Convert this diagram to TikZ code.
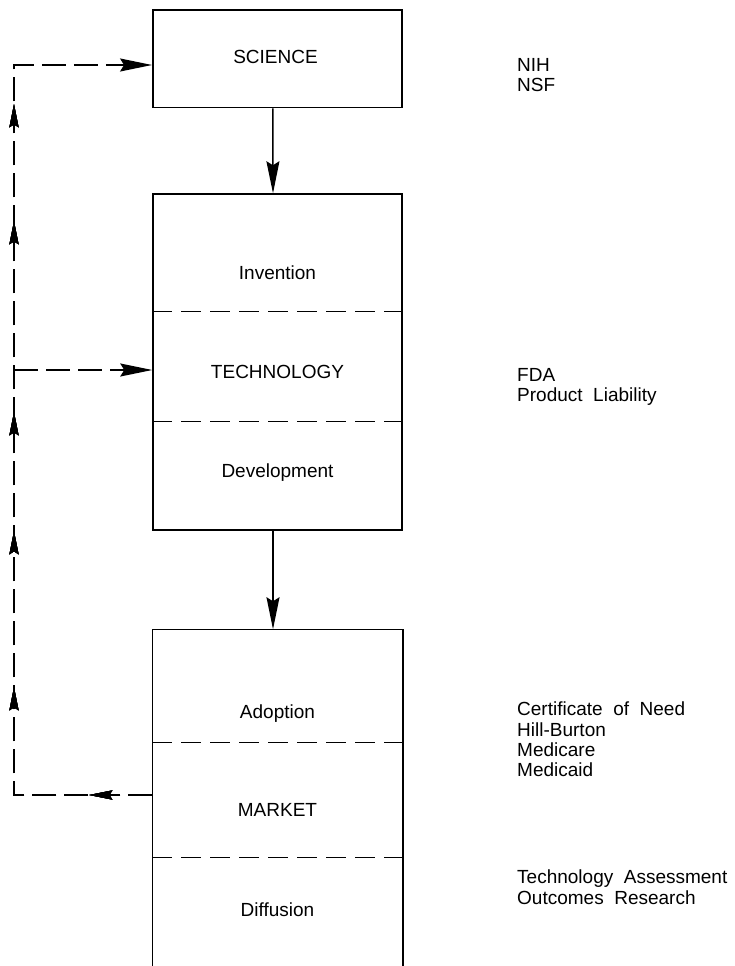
\documentclass[tikz,border=0pt]{standalone}
\usepackage{fontspec}
\setmainfont{Liberation Sans}
\usetikzlibrary{arrows.meta,calc,decorations.markings}

\tikzset{
  boxframe/.style={draw, line width=1.5pt, minimum width=249pt, inner sep=0pt},
  boxlabel/.style={font=\fontsize{19}{20.3}\selectfont, text height=13.6pt, text depth=0pt, inner sep=0pt},
  agency/.style={font=\fontsize{19}{20.3}\selectfont, align=left, anchor=north west, inner sep=0pt},
  flow/.style={line width=1.4pt, -{Stealth[length=32pt,width=13pt,inset=4pt]}},
  feedback/.style={line width=1.4pt, dash pattern=on 24pt off 8pt},
  divider/.style={line width=1.3pt, dash pattern=on 20pt off 9pt},
  midhead/.style={decoration={markings,
      mark=at position #1 with {\arrow{Stealth[length=23pt,width=9pt,inset=3pt]}}},
    postaction={decorate}},
}

\begin{document}
\begin{tikzpicture}[x=1pt, y=-1pt]
  \useasboundingbox (0,0) rectangle (735,966);

  % Three stages of the innovation process
  \node[boxframe, minimum height=97.5pt] (sci) at (277.3,58.8) {};
  \node[boxframe, minimum height=336pt] (tech) at (277.5,362) {};
  \node[boxframe, draw=none, minimum height=336pt] (mkt) at (277.5,798) {};
  \draw[line width=1.5pt] (mkt.south west) -- (mkt.north west) -- (mkt.north east) -- (mkt.south east);

  % Sub-stage dividers
  \draw[divider] ($(tech.north west)+(0,118)$) -- ($(tech.north east)+(0,118)$);
  \draw[divider] ($(tech.north west)+(0,228)$) -- ($(tech.north east)+(0,228)$);
  \draw[divider] ($(mkt.north west)+(0,113)$) -- ($(mkt.north east)+(0,113)$);
  \draw[divider] ($(mkt.north west)+(0,228)$) -- ($(mkt.north east)+(0,228)$);

  % Stage and sub-stage labels
  \node[boxlabel] (lsci) at (275.5,57) {SCIENCE};
  \node[boxlabel] (linv) at (277.5,273) {Invention};
  \node[boxlabel] (ltech) at (277.5,372) {TECHNOLOGY};
  \node[boxlabel] (ldev) at (277.5,470.5) {Development};
  \node[boxlabel] (ladop) at (277.5,712) {Adoption};
  \node[boxlabel] (lmkt) at (277.5,810) {MARKET};
  \node[boxlabel] (ldiff) at (277.5,909.5) {Diffusion};

  % Forward flow
  \draw[flow] ([xshift=-4.5pt]sci.south) -- ([xshift=-4.5pt]tech.north);
  \draw[flow] ([xshift=-4.5pt]tech.south) -- ([xshift=-4.5pt]mkt.north);

  % Feedback loop from the market back to science and technology
  \coordinate (fbout) at ([yshift=3pt]mkt.west);
  \coordinate (fbbot) at (14,795);
  \coordinate (fbmid) at (14,370);
  \coordinate (fbtop) at (14,65);
  \coordinate (sciin) at ([yshift=-6.2pt]sci.west);
  \coordinate (techin) at ([yshift=-8pt]tech.west);
  \draw[feedback, flow, midhead/.list={63pt,246pt,402pt,521pt,712pt,829pt}]
    (fbout) -- (fbbot) -- (fbtop) -- (sciin);
  \draw[feedback, flow] (fbmid) -- (techin);

  % Policy instruments acting on each stage
  \node[agency] (agsci) at (517,58) {NIH\\NSF};
  \node[agency] (agtech) at (517,368) {FDA\\Product\ \ Liability};
  \node[agency] (agadop) at (517,702) {Certificate\ \ of\ \ Need\\Hill-Burton\\Medicare\\Medicaid};
  \node[agency] (agdiff) at (517,870) {Technology\ \ Assessment\\Outcomes\ \ Research};
\end{tikzpicture}
\end{document}
